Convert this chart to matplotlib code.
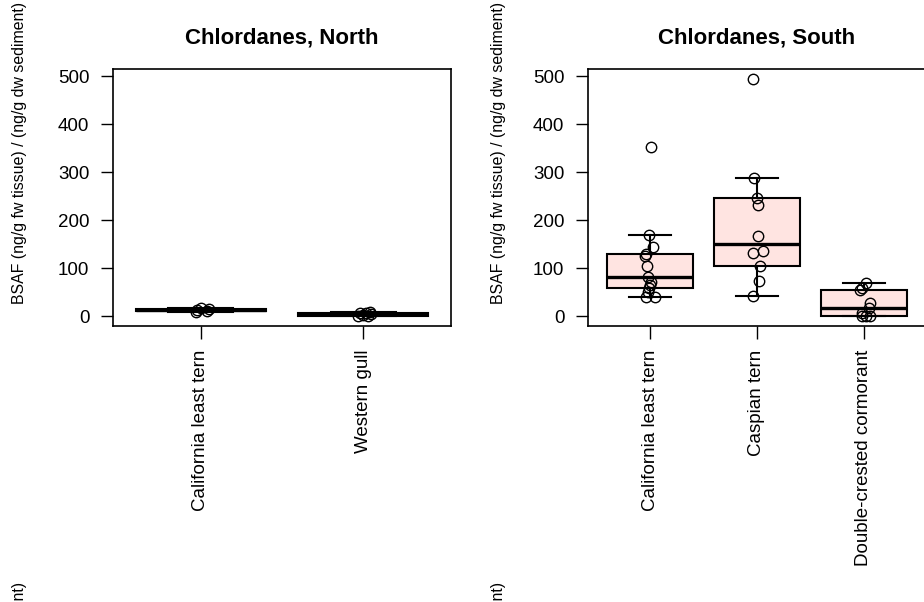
import numpy as np
import matplotlib
matplotlib.use("Agg")
import matplotlib.pyplot as plt

plt.rcParams['font.family'] = ['Liberation Sans', 'DejaVu Sans']

# ---- data ----
north_species = ["California least tern", "Western gull"]
north_clt = [10, 12, 13, 15, 18]
north_wg = [0, 1, 3, 5, 7, 8, 10]

south_species = ["California least tern", "Caspian tern", "Double-crested cormorant"]
south_clt = [40, 41, 50, 60, 66, 72, 82, 104, 125, 130, 144, 170, 352]
south_ct = [43, 73, 105, 133, 136, 167, 231, 247, 288, 495]
south_dcc = [0, 0.5, 1.5, 8, 17.5, 28, 55, 60, 70]

# horizontal jitter (in category units)
north_clt_jit = [-0.03, 0.04, -0.02, 0.05, 0.0]
north_wg_jit = [-0.03, 0.03, 0.0, 0.05, -0.02, 0.02, 0.04]
south_clt_jit = [-0.04, 0.045, -0.02, -0.01, 0.0, 0.01, -0.02, -0.03, -0.05, -0.035, 0.03, -0.01, 0.01]
south_ct_jit = [-0.04, 0.015, 0.025, -0.04, 0.055, 0.005, 0.01, 0.0, -0.025, -0.04]
south_dcc_jit = [-0.02, 0.02, 0.06, -0.02, 0.05, 0.06, -0.04, -0.02, 0.02]

titles = ["Chlordanes, North", "Chlordanes, South"]
ylabel = "BSAF (ng/g fw tissue) / (ng/g dw sediment)"
yticks = [0, 100, 200, 300, 400, 500]

BOXFILL = "#FFE4E1"
W, H = 924, 602


def tukey_stats(vals, label):
    v = np.sort(np.asarray(vals, dtype=float))
    n = len(v)
    n4 = np.floor((n + 3) / 2) / 2
    idx = np.array([1, n4, (n + 1) / 2, n + 1 - n4, n])
    q = 0.5 * (v[np.floor(idx).astype(int) - 1] + v[np.ceil(idx).astype(int) - 1])
    lo, q1, med, q3, hi = q
    iqr = q3 - q1
    inside = v[(v >= q1 - 1.5 * iqr) & (v <= q3 + 1.5 * iqr)]
    return dict(med=med, q1=q1, q3=q3, whislo=inside.min(), whishi=inside.max(),
                fliers=[], label=label)


all_vals = north_clt + north_wg + south_clt + south_ct + south_dcc
ymin, ymax = min(all_vals), max(all_vals)
pad = 0.04 * (ymax - ymin)
ylim = (ymin - pad, ymax + pad)

fig = plt.figure(figsize=(W / 100, H / 100), dpi=100)

panels = [
    (113, north_species, [north_clt, north_wg], [north_clt_jit, north_wg_jit], titles[0]),
    (588, south_species, [south_clt, south_ct, south_dcc], [south_clt_jit, south_ct_jit, south_dcc_jit], titles[1]),
]

for left_px, species, groups, jits, title in panels:
    ax = fig.add_axes([left_px / W, 1 - 326 / H, 338 / W, 257 / H])
    n = len(species)
    stats = [tukey_stats(g, s) for g, s in zip(groups, species)]
    ax.bxp(stats, positions=np.arange(1, n + 1), widths=0.8, patch_artist=True,
           showfliers=False, capwidths=0.4,
           boxprops=dict(facecolor=BOXFILL, edgecolor='black', linewidth=1.5),
           medianprops=dict(color='black', linewidth=2.4),
           whiskerprops=dict(color='black', linewidth=1.5),
           capprops=dict(color='black', linewidth=1.5))
    for i, (g, j) in enumerate(zip(groups, jits)):
        ax.plot(np.full(len(g), i + 1) + np.asarray(j), g, 'o', ms=7.5,
                mfc='none', mec='black', mew=1.0, zorder=5)
    span = n - 0.5 - 0.5
    ax.set_xlim(0.5 - 0.04 * span, n + 0.5 + 0.04 * span)
    ax.set_ylim(*ylim)
    ax.set_yticks(yticks)
    ax.set_xticks(np.arange(1, n + 1))
    ax.set_xticklabels(species, rotation=90)
    ax.tick_params(axis='both', direction='out', length=9, width=1.0,
                   labelsize=13.5, pad=8, top=False, right=False)
    for sp in ax.spines.values():
        sp.set_linewidth(1.2)
    ax.set_title(title, fontsize=16, fontweight='bold', pad=18.5)

# y labels (left panel, right panel, and the clipped ones of the next row)
for xc in (20, 498):
    for yc in (153, 733):
        fig.text(xc / W, 1 - yc / H, ylabel, rotation=90, ha='center', va='center',
                 fontsize=11.4)

fig.savefig("out.png", dpi=100)
